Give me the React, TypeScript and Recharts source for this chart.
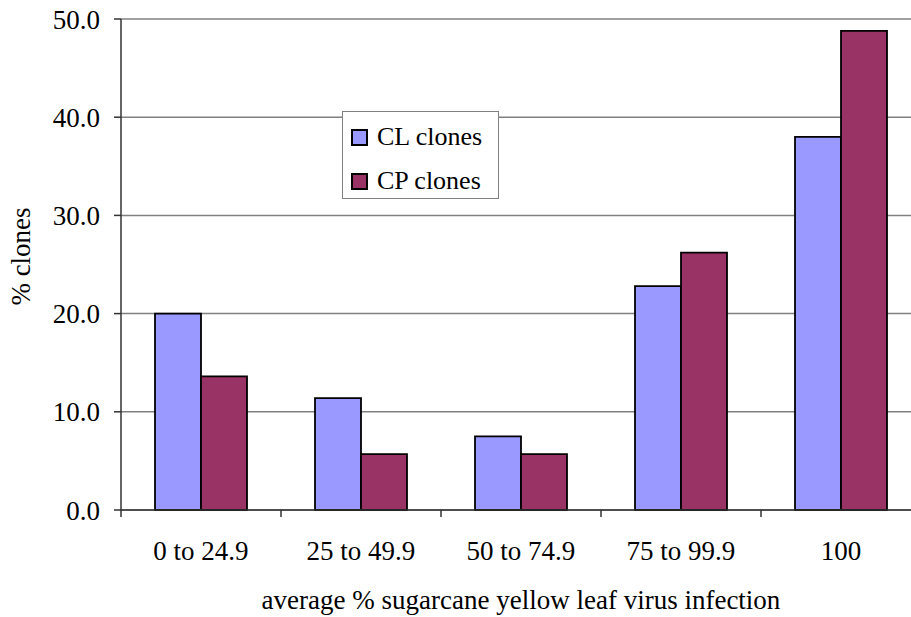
import React from "react"
import {
  BarChart,
  Bar,
  XAxis,
  YAxis,
  CartesianGrid,
  Legend,
} from "recharts"

const categories = ["0 to 24.9", "25 to 49.9", "50 to 74.9", "75 to 99.9", "100"]
const clClones = [20.0, 11.4, 7.5, 22.8, 38.0]
const cpClones = [13.6, 5.7, 5.7, 26.2, 48.8]
const yTicks = [0, 10, 20, 30, 40, 50]

const FONT = "Liberation Serif, Tinos, DejaVu Serif, serif"
const FONT_SIZE = 27
const CL_COLOR = "#9999FF"
const CP_COLOR = "#993366"
const AXIS_COLOR = "#333333"

const data = categories.map((name, i) => ({
  name,
  cl: clClones[i],
  cp: cpClones[i],
}))

// category label at the centre, tick mark at the left edge of each band
function CategoryTick(props: any) {
  const { x, y, payload } = props
  const half = payload?.offset ?? 80
  return (
    <g>
      <line
        x1={x - half}
        x2={x - half}
        y1={y}
        y2={y + 7}
        stroke={AXIS_COLOR}
        strokeWidth={1.5}
      />
      <text
        x={x}
        y={y + 50}
        textAnchor="middle"
        style={{ fontFamily: FONT, fontSize: FONT_SIZE }}
        fill="#000"
      >
        {payload.value}
      </text>
    </g>
  )
}

function YTitle(props: any) {
  const { x, y, height } = props.viewBox
  const cx = x + 21
  const cy = y + height / 2 - 8
  return (
    <text
      x={cx}
      y={cy}
      transform={`rotate(-90 ${cx} ${cy})`}
      textAnchor="middle"
      dominantBaseline="central"
      style={{ fontFamily: FONT, fontSize: FONT_SIZE }}
      fill="#000"
    >
      % clones
    </text>
  )
}

function LegendBox() {
  const items = [
    { label: "CL clones", color: CL_COLOR },
    { label: "CP clones", color: CP_COLOR },
  ]
  return (
    <div
      style={{
        boxSizing: "border-box",
        width: 157,
        height: 88,
        border: "1px solid #808080",
        background: "#fff",
        paddingTop: 6,
        fontFamily: FONT,
        fontSize: FONT_SIZE - 1,
        color: "#000",
      }}
    >
      {items.map((it) => (
        <div
          key={it.label}
          style={{ display: "flex", alignItems: "center", height: 38, marginBottom: 6 }}
        >
          <span
            style={{
              display: "inline-block",
              boxSizing: "border-box",
              width: 17,
              height: 17,
              marginLeft: 8,
              marginRight: 9,
              background: it.color,
              border: "2px solid #000",
            }}
          />
          <span style={{ whiteSpace: "nowrap" }}>{it.label}</span>
        </div>
      ))}
    </div>
  )
}

export default function App() {
  return (
    <div
      style={{
        position: "absolute",
        left: 0,
        top: 0,
        width: 911,
        height: 617,
        overflow: "hidden",
        background: "#fff",
        fontFamily: FONT,
      }}
    >
      <BarChart
        width={935}
        height={617}
        data={data}
        margin={{ top: 19, right: 14, bottom: 0, left: 0 }}
        barCategoryGap="21.25%"
        barGap={0}
        style={{ fontFamily: FONT }}
      >
        <CartesianGrid vertical={false} stroke="#808080" strokeWidth={1.5} />
        <XAxis
          dataKey="name"
          height={107}
          tickLine={false}
          tickSize={0}
          tickMargin={0}
          tick={<CategoryTick />}
          axisLine={{ stroke: AXIS_COLOR, strokeWidth: 1.5 }}
          interval={0}
          label={{
            value: "average % sugarcane yellow leaf virus infection",
            position: "insideBottom",
            offset: 8,
            fill: "#000",
            style: { fontFamily: FONT, fontSize: FONT_SIZE },
          }}
        />
        <YAxis
          width={121}
          domain={[0, 50]}
          ticks={yTicks}
          tickFormatter={(v: number) => v.toFixed(1)}
          tickSize={7}
          tickMargin={14}
          tickLine={{ stroke: AXIS_COLOR, strokeWidth: 1.5 }}
          axisLine={{ stroke: AXIS_COLOR, strokeWidth: 1.5 }}
          tick={{ fill: "#000", style: { fontFamily: FONT, fontSize: FONT_SIZE } }}
          label={<YTitle />}
        />
        <Legend
          layout="vertical"
          verticalAlign="middle"
          align="center"
          content={<LegendBox />}
          wrapperStyle={{ left: 342, top: 111, width: 157, height: 88 }}
        />
        <Bar
          dataKey="cl"
          name="CL clones"
          fill={CL_COLOR}
          stroke="#000"
          strokeWidth={1.8}
          isAnimationActive={false}
        />
        <Bar
          dataKey="cp"
          name="CP clones"
          fill={CP_COLOR}
          stroke="#000"
          strokeWidth={1.8}
          isAnimationActive={false}
        />
      </BarChart>
    </div>
  )
}
